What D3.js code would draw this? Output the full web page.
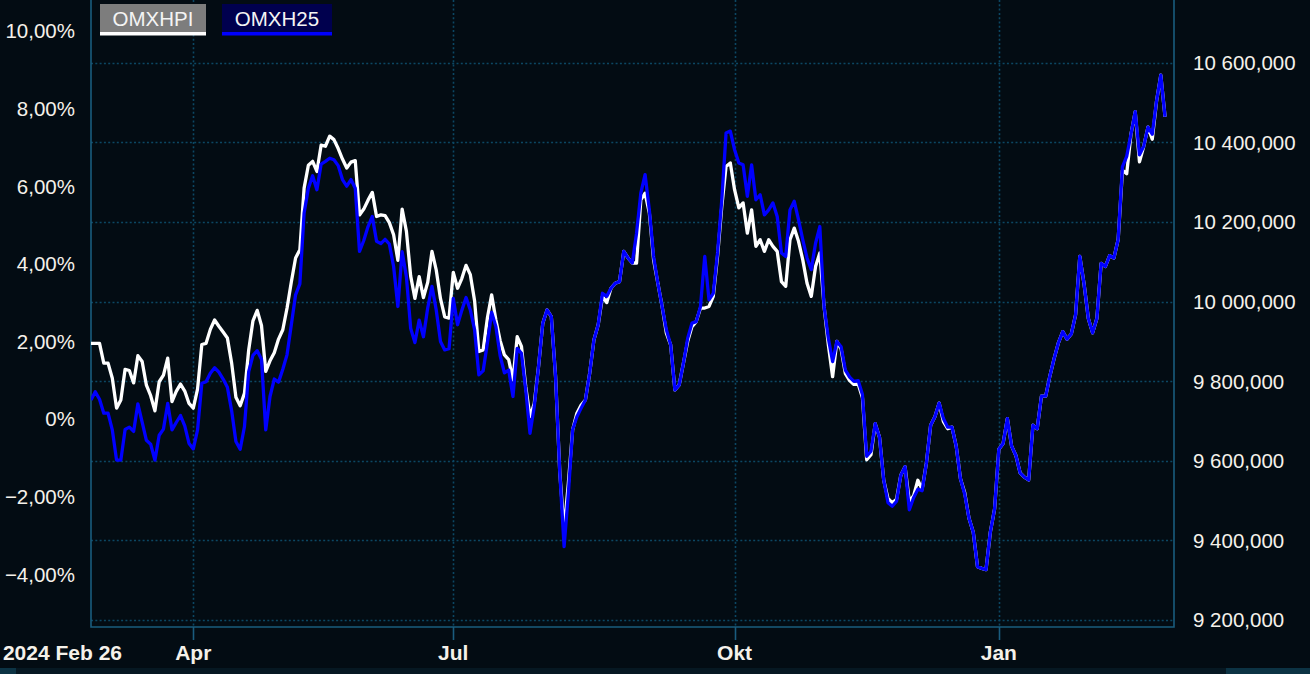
<!DOCTYPE html>
<html>
<head>
<meta charset="utf-8">
<script src="https://cdn.jsdelivr.net/npm/d3@7/dist/d3.min.js"></script>
<style>
  html, body { margin: 0; padding: 0; background: #030c13; }
  svg { display: block; }
  text { font-family: "Liberation Sans", Arial, sans-serif; }
</style>
</head>
<body>
<svg id="chart" width="1310" height="674"></svg>
<script>
// ---- Data (percent change, one value per trading day from 2024 Feb 26) ----
const seriesNames = ["OMXHPI", "OMXH25"];

const omxhpi = [
  1.95,1.95,1.95,1.44,1.44,1.05,0.28,0.49,1.28,1.25,
  0.93,1.63,1.48,0.87,0.60,0.21,0.96,1.13,1.57,0.45,
  0.71,0.90,0.72,0.40,0.28,0.77,1.92,1.95,2.31,2.55,
  2.39,2.24,2.09,1.44,0.56,0.34,0.66,1.78,2.53,2.80,
  2.41,1.23,1.50,1.71,2.06,2.30,2.86,3.53,4.15,4.36,
  5.95,6.54,6.64,6.38,7.06,7.03,7.29,7.20,6.97,6.70,
  6.47,6.62,6.66,5.26,5.41,5.64,5.84,5.22,5.26,5.24,
  5.06,4.75,4.09,5.41,4.84,3.69,3.11,3.67,3.13,3.52,
  4.32,3.84,3.10,2.63,2.60,3.78,3.37,3.62,3.96,3.72,
  3.05,1.74,1.78,2.60,3.20,2.55,2.02,1.65,1.53,1.01,
  2.12,1.87,0.83,0.06,0.40,1.35,2.47,2.81,2.64,1.09,
  -1.40,-2.86,-1.66,-0.28,0.15,0.36,0.49,1.18,2.04,2.43,
  3.16,3.00,3.37,3.50,3.54,4.32,4.15,4.02,4.02,5.65,
  5.82,5.31,4.10,3.50,2.90,2.21,1.91,0.75,0.88,1.44,
  2.00,2.38,2.51,2.86,2.86,2.90,3.16,4.19,5.48,6.51,
  6.60,5.91,5.44,5.57,4.79,5.39,4.45,4.62,4.32,4.62,
  4.45,4.32,3.54,3.42,4.62,4.92,4.58,4.10,3.50,3.16,
  3.93,4.28,2.90,1.91,1.09,2.00,1.80,1.17,0.99,0.89,
  0.90,0.55,-1.05,-0.92,-0.12,-0.47,-1.58,-2.05,-2.16,-2.07,
  -1.45,-1.23,-2.12,-1.98,-1.58,-1.81,-1.14,-0.16,0.06,0.41,
  -0.07,-0.25,-0.21,-0.70,-1.54,-1.90,-2.56,-2.92,-3.81,-3.85,
  -3.88,-2.92,-2.32,-0.78,-0.63,0.01,-0.70,-0.94,-1.39,-1.50,
  -1.57,-0.16,-0.25,0.59,0.59,1.12,1.57,1.97,2.25,2.06,
  2.19,2.68,4.19,3.48,2.59,2.22,2.59,4.01,3.93,4.21,
  4.15,4.63,6.41,6.32,7.34,7.92,6.63,7.03,7.52,7.21,
  8.19,8.86,7.79
];

const omxh25 = [
  0.49,0.70,0.51,0.15,0.15,-0.28,-1.06,-1.06,-0.27,-0.21,
  -0.32,0.39,-0.08,-0.55,-0.65,-1.06,-0.42,-0.26,0.40,-0.28,
  -0.09,0.09,-0.18,-0.63,-0.77,-0.28,0.92,0.96,1.18,1.32,
  1.21,1.03,0.82,0.21,-0.58,-0.78,-0.20,1.22,1.64,1.76,
  1.54,-0.28,0.58,1.03,0.95,1.28,1.66,2.43,3.20,3.48,
  5.31,5.95,6.27,5.91,6.57,6.64,6.72,6.68,6.53,6.17,
  6.00,6.17,5.95,4.32,4.60,4.96,5.22,4.58,4.52,4.63,
  4.51,3.93,2.90,4.31,3.67,2.34,1.97,2.55,2.12,2.86,
  3.42,2.81,2.00,1.78,1.81,3.11,2.43,2.80,3.13,2.81,
  2.30,1.14,1.24,1.95,2.75,2.38,1.63,1.19,1.26,0.58,
  1.82,1.69,0.75,-0.37,0.32,1.35,2.47,2.81,2.64,1.09,
  -1.40,-3.29,-1.92,-0.28,0.06,0.28,0.49,1.18,2.04,2.43,
  3.24,3.16,3.37,3.50,3.54,4.32,4.15,4.02,4.79,5.82,
  6.30,5.39,4.19,3.50,2.90,2.30,1.91,0.75,0.88,1.44,
  2.08,2.47,2.51,2.90,4.19,3.07,3.24,4.28,5.65,7.37,
  7.42,6.94,6.60,6.55,5.74,6.55,5.65,5.78,5.26,5.39,
  5.57,5.22,4.28,4.19,5.39,5.61,5.14,4.62,4.15,3.85,
  4.53,4.96,2.90,2.08,1.48,2.00,1.86,1.26,1.08,0.97,
  0.99,0.63,-0.96,-0.83,-0.12,-0.47,-1.58,-2.16,-2.25,-2.12,
  -1.45,-1.23,-2.34,-2.03,-1.81,-1.85,-1.14,-0.16,0.06,0.41,
  0.01,-0.21,-0.21,-0.70,-1.54,-1.94,-2.56,-2.92,-3.81,-3.85,
  -3.88,-2.92,-2.32,-0.78,-0.63,0.01,-0.70,-0.94,-1.39,-1.50,
  -1.57,-0.16,-0.25,0.59,0.59,1.12,1.57,1.97,2.25,2.06,
  2.19,2.68,4.19,3.48,2.59,2.22,2.59,4.01,3.93,4.21,
  4.15,4.63,6.50,6.77,7.34,7.92,6.81,7.03,7.52,7.34,
  8.19,8.86,7.79
];

// x-axis: month labels at trading-day index
const monthTickLabels = ["Apr", "Jul", "Okt", "Jan"];
const monthTickIndex  = [24, 85, 151, 213];
const startLabel = "2024 Feb 26";

// y-axis ticks
const leftTicks  = [-4, -2, 0, 2, 4, 6, 8, 10];
const rightTicks = [9200, 9400, 9600, 9800, 10000, 10200, 10400, 10600];

// ---- Layout ----
const W = 1310, H = 674;
const plot = { left: 91, right: 1174, top: 0, bottom: 627 };

const svg = d3.select("#chart");

const x = d3.scaleLinear().domain([0, 254.1]).range([plot.left, plot.right]);
const yL = d3.scaleLinear().domain([-5.361, 10.799]).range([plot.bottom, plot.top]);
const yR = d3.scaleLinear().domain([9182.4, 10757.5]).range([plot.bottom, plot.top]);

const locale = d3.formatLocale({ decimal: ",", thousands: "\u2009", grouping: [3], currency: ["", ""] });
const fmtPct = v => v === 0 ? "0%" : locale.format(".2f")(v) + "%";
const fmtRight = v => locale.format(",.3f")(v).replace(/\u2009/g, " ");

const bg = "#030c13";
const gridColor = "#0c4763";
const borderColor = "#1a5c7e";
const textColor = "#f5f1ea";

svg.append("rect").attr("width", W).attr("height", H).attr("fill", bg);

// grid
const grid = svg.append("g");
grid.selectAll("line.h").data(rightTicks).join("line")
  .attr("x1", plot.left).attr("x2", plot.right)
  .attr("y1", d => Math.round(yR(d)) + 0.5).attr("y2", d => Math.round(yR(d)) + 0.5)
  .attr("stroke", gridColor).attr("stroke-width", 1.6).attr("stroke-dasharray", "2,2.3");
grid.selectAll("line.v").data(monthTickIndex).join("line")
  .attr("x1", d => Math.round(x(d)) + 0.5).attr("x2", d => Math.round(x(d)) + 0.5)
  .attr("y1", plot.top).attr("y2", plot.bottom)
  .attr("stroke", gridColor).attr("stroke-width", 1.6).attr("stroke-dasharray", "2,2.3");

// border
const border = svg.append("g").attr("stroke", borderColor).attr("stroke-width", 1.6).attr("fill", "none");
border.append("path").attr("d", `M${plot.left},${plot.top}V${plot.bottom}H${plot.right}V${plot.top}`);
border.selectAll("line.tick").data(monthTickIndex).join("line")
  .attr("x1", d => Math.round(x(d)) + 0.5).attr("x2", d => Math.round(x(d)) + 0.5)
  .attr("y1", plot.bottom).attr("y2", plot.bottom + 13);

// lines
svg.append("defs").append("clipPath").attr("id", "clip")
  .append("rect").attr("x", plot.left).attr("y", plot.top)
  .attr("width", plot.right - plot.left).attr("height", plot.bottom - plot.top);

const line = d3.line().x((d, i) => x(i)).y(d => yL(d));
const lines = svg.append("g").attr("clip-path", "url(#clip)");
lines.append("path").datum(omxhpi).attr("d", line)
  .attr("fill", "none").attr("stroke", "#ffffff").attr("stroke-width", 3.3).attr("stroke-linejoin", "round");
lines.append("path").datum(omxh25).attr("d", line)
  .attr("fill", "none").attr("stroke", "#0000ff").attr("stroke-width", 3.3).attr("stroke-linejoin", "round");

// left axis labels
svg.append("g").selectAll("text").data(leftTicks).join("text")
  .attr("x", 75).attr("y", d => yL(d)).attr("dy", "0.36em")
  .attr("text-anchor", "end").attr("fill", textColor).attr("font-size", 20.5)
  .text(fmtPct);

// right axis labels
svg.append("g").selectAll("text").data(rightTicks).join("text")
  .attr("x", 1193).attr("y", d => yR(d)).attr("dy", "0.36em")
  .attr("text-anchor", "start").attr("fill", textColor).attr("font-size", 20.5)
  .text(fmtRight);

// bottom labels
const bottomG = svg.append("g").attr("fill", textColor).attr("font-size", 21).attr("font-weight", "bold");
bottomG.selectAll("text.m").data(monthTickIndex).join("text")
  .attr("x", d => x(d)).attr("y", 660).attr("text-anchor", "middle")
  .text((d, i) => monthTickLabels[i]);
bottomG.append("text").attr("x", x(0) + 31).attr("y", 660).attr("text-anchor", "end").text(startLabel);

// legend
const legendColors = [
  { box: "#7d7d7d", line: "#ffffff", x: 100, w: 106 },
  { box: "#00004e", line: "#0000ff", x: 222, w: 110 }
];
const leg = svg.append("g");
seriesNames.forEach((name, i) => {
  const c = legendColors[i];
  leg.append("rect").attr("x", c.x).attr("y", 4).attr("width", c.w).attr("height", 28).attr("fill", c.box);
  leg.append("rect").attr("x", c.x).attr("y", 32).attr("width", c.w).attr("height", 3.5).attr("fill", c.line);
  leg.append("text").attr("x", c.x + c.w / 2).attr("y", 26).attr("text-anchor", "middle")
    .attr("fill", "#f4f4f4").attr("font-size", 20.5).text(name);
});

// bottom scroll strip
svg.append("rect").attr("x", 0).attr("y", 668).attr("width", W).attr("height", 6).attr("fill", "#061822");
svg.append("rect").attr("x", 0).attr("y", 668).attr("width", 16).attr("height", 6).attr("fill", "#0c3344");
svg.append("rect").attr("x", 1226).attr("y", 668).attr("width", 84).attr("height", 6).attr("fill", "#0c3344");
</script>
</body>
</html>
